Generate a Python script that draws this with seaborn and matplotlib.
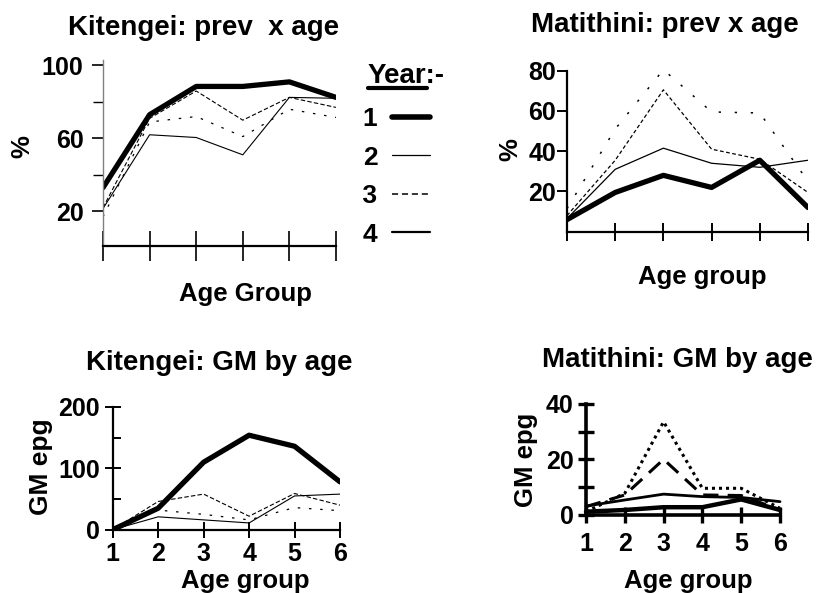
"""Worksheet: prevalence and GM epg by age group, Kitengei vs Matithini"""
import matplotlib.pyplot as plt
import seaborn as sns
from matplotlib.lines import Line2D
from matplotlib.ticker import FixedLocator, NullFormatter

ages = [1, 2, 3, 4, 5, 6]
year_labels = ["1", "2", " 3", "4"]

# % prevalence by age group, Kitengei
kit_prev_y1 = [33, 73, 88.5, 88.5, 91, 82.5]
kit_prev_y2 = [21.5, 62, 60.5, 51, 82.5, 82]
kit_prev_y3 = [22, 71, 86, 70, 82.5, 77]
kit_prev_y4 = [17, 69, 72, 61, 76, 71.5]

# % prevalence by age group, Matithini
mat_prev_y1 = [6, 19.5, 28, 22, 35.5, 12]
mat_prev_y2 = [6.5, 31, 41.5, 34, 32, 35.5]
mat_prev_y3 = [8, 35.5, 70.5, 41, 36, 19.5]
mat_prev_y4 = [11.5, 51, 80.5, 59.5, 59, 25]

# GM epg by age group, Kitengei
kit_gm_y1 = [0, 35, 110, 154, 136, 78]
kit_gm_y2 = [0, 21, 16, 11, 55, 58]
kit_gm_y3 = [0, 46, 58, 22, 59, 40]
kit_gm_y4 = [0, 32, 25, 16, 36, 31]

# GM epg by age group, Matithini
mat_gm_y1 = [1.2, 1.8, 2.8, 2.8, 5.6, 1.8]
mat_gm_y2 = [3.2, 5.4, 7.5, 6.6, 6.3, 4.8]
mat_gm_y3 = [3, 7.2, 20, 7.2, 7, 1.8]
mat_gm_y4 = [1.2, 7.8, 33.5, 9.6, 9.6, 2.4]

sns.set_style("ticks")
plt.rcParams["font.family"] = ["Liberation Sans", "DejaVu Sans"]
plt.rcParams["font.weight"] = "bold"
for key in ["text.color", "axes.labelcolor", "xtick.color", "ytick.color", "axes.edgecolor"]:
    plt.rcParams[key] = "black"

W, H = 824, 593
fig = plt.figure(figsize=(W / 100, H / 100), dpi=100)

TITLE, LAB, TICK = 20, 18.5, 18


def px_axes(x0, x1, y_top, y_bot):
    return fig.add_axes([x0 / W, 1 - y_bot / H, (x1 - x0) / W, (y_bot - y_top) / H])


def ftext(x, y, s, **kw):
    return fig.text(x / W, 1 - y / H, s, fontweight="bold", **kw)


def draw(ax, series, styles):
    for vals, (lw, ls) in zip(series, styles):
        sns.lineplot(x=ages, y=vals, ax=ax, color="black", lw=lw, linestyle=ls)
    ax.set_xlim(1, 6)
    ax.set_xlabel("")
    ax.set_ylabel("")
    ax.spines[["top", "right"]].set_visible(False)


def bold_ticks(ax):
    for lab in ax.get_yticklabels() + ax.get_xticklabels():
        lab.set_fontweight("bold")


thin_styles = [(3.8, "-"), (0.8, "-"), (0.8, (0, (4, 2))), (0.9, (0, (2, 7)))]

# --- Kitengei prevalence ---
ax1 = px_axes(103, 336, 60, 246)
draw(ax1, [kit_prev_y1, kit_prev_y2, kit_prev_y3, kit_prev_y4], thin_styles)
ax1.set_ylim(1, 103)
ax1.set_yticks([20, 60, 100])
ax1.yaxis.set_minor_locator(FixedLocator([40, 80]))
ax1.set_xticks(ages)
ax1.xaxis.set_major_formatter(NullFormatter())
ax1.tick_params(axis="y", which="major", length=8, width=1.2, pad=6, labelsize=TICK)
ax1.tick_params(axis="y", which="minor", length=7, width=1)
ax1.tick_params(axis="x", direction="inout", length=22, width=1.2)
ax1.spines["left"].set_color("#808080")
ax1.spines["left"].set_linewidth(1)
ax1.spines["bottom"].set_linewidth(1.6)
bold_ticks(ax1)

# --- Matithini prevalence ---
ax2 = px_axes(567, 808, 70.7, 231.7)
draw(ax2, [mat_prev_y1, mat_prev_y2, mat_prev_y3, mat_prev_y4],
     [(3.8, "-"), (0.9, "-"), (0.9, (0, (3, 2))), (1.1, (0, (1.5, 9)))])
ax2.set_ylim(0, 80)
ax2.set_yticks([20, 40, 60, 80])
ax2.set_xticks(ages)
ax2.xaxis.set_major_formatter(NullFormatter())
ax2.tick_params(axis="y", length=7, width=1.4, pad=1, labelsize=TICK)
ax2.tick_params(axis="x", direction="inout", length=13, width=1.4)
for s in ["left", "bottom"]:
    ax2.spines[s].set_linewidth(1.6)
bold_ticks(ax2)

# --- Kitengei GM ---
ax3 = px_axes(112.7, 340, 407, 529.7)
draw(ax3, [kit_gm_y1, kit_gm_y2, kit_gm_y3, kit_gm_y4], thin_styles)
ax3.set_ylim(0, 200)
ax3.set_yticks([0, 100, 200])
ax3.yaxis.set_minor_locator(FixedLocator([50, 150]))
ax3.set_xticks(ages)
ax3.tick_params(axis="y", which="major", direction="inout", length=12, width=1.4, pad=3, labelsize=TICK)
ax3.tick_params(axis="y", which="minor", direction="in", length=6, width=1.4)
ax3.tick_params(axis="x", direction="inout", length=12, width=1.4, pad=3, labelsize=TICK)
for s in ["left", "bottom"]:
    ax3.spines[s].set_linewidth(1.6)
bold_ticks(ax3)

# --- Matithini GM ---
ax4 = px_axes(586, 780, 403.7, 515)
draw(ax4, [mat_gm_y1, mat_gm_y2, mat_gm_y3, mat_gm_y4],
     [(3.2, "-"), (2.0, "-"), (2.2, (0, (5, 3))), (2.2, (0, (1, 1.3)))])
ax4.set_ylim(0, 40)
ax4.set_yticks([0, 20, 40])
ax4.yaxis.set_minor_locator(FixedLocator([10, 30]))
ax4.set_xticks(ages)
ax4.tick_params(axis="y", which="both", direction="inout", length=12, width=2.4, pad=3, labelsize=TICK)
ax4.tick_params(axis="x", direction="inout", length=12, width=2.4, pad=6, labelsize=TICK)
for s in ["left", "bottom"]:
    ax4.spines[s].set_linewidth(2.6)
for ln in ax4.lines:
    ln.set_clip_on(False)
bold_ticks(ax4)

# titles and axis labels
ftext(204, 35, "Kitengei: prev  x age", fontsize=TITLE, ha="center", va="baseline")
ftext(665, 32, "Matithini: prev x age", fontsize=TITLE, ha="center", va="baseline")
ftext(219, 370, "Kitengei: GM by age", fontsize=TITLE, ha="center", va="baseline")
ftext(677, 367, "Matithini: GM by age", fontsize=TITLE, ha="center", va="baseline")

ftext(22, 147, "%", fontsize=LAB, rotation=90, ha="center", va="center")
ftext(510, 150, "%", fontsize=LAB, rotation=90, ha="center", va="center")
ftext(41, 467, "GM epg", fontsize=19, rotation=90, ha="center", va="center")
ftext(526, 460, "GM epg", fontsize=LAB, rotation=90, ha="center", va="center")

ftext(245, 294, "Age Group", fontsize=LAB, ha="center", va="center")
ftext(702, 277, "Age group", fontsize=LAB, ha="center", va="center")
ftext(245, 581, "Age group", fontsize=LAB, ha="center", va="center")
ftext(688, 581, "Age group", fontsize=LAB, ha="center", va="center")

# legend: year key
handles = [
    Line2D([], [], color="black", lw=4.0, solid_capstyle="round"),
    Line2D([], [], color="black", lw=0.9),
    Line2D([], [], color="black", lw=1.1, linestyle=(0, (4, 2.5))),
    Line2D([], [], color="black", lw=1.6),
]
leg = fig.legend(handles, year_labels, loc="upper left", bbox_to_anchor=(342 / W, 1 - 94 / H),
                 frameon=False, markerfirst=False,
                 prop={"size": 19, "weight": "bold"}, handlelength=1.45, handletextpad=0.55,
                 labelspacing=0.55, borderpad=0, alignment="left")

ytitle = ftext(368, 83, "Year:-", fontsize=TITLE, ha="left", va="baseline")
fig.canvas.draw()
renderer = fig.canvas.get_renderer()
tmp = fig.text(0, 0, "Year", fontsize=TITLE, fontweight="bold")
yw = tmp.get_window_extent(renderer).width
tmp.remove()
uy = 1 - 88 / H
fig.add_artist(Line2D([368 / W, (368 + yw) / W], [uy, uy], color="black", lw=3))

fig.savefig("out.png", dpi=100)
